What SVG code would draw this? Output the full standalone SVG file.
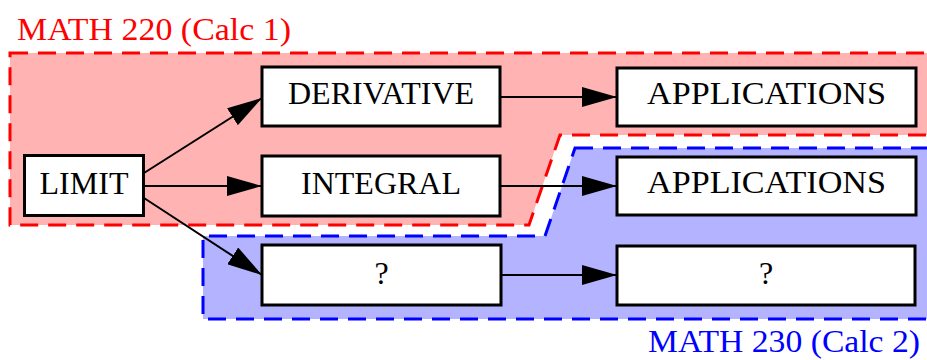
<svg xmlns="http://www.w3.org/2000/svg" width="927" height="360" viewBox="0 0 927 360">
<style>
.cl{stroke-width:3;stroke-dasharray:18,10}
.n rect{fill:#fff;stroke:#000;stroke-width:3}
.n text,.t{font-family:"Liberation Serif","Times New Roman",serif;font-size:32px;text-anchor:middle}
.e{stroke:#000;stroke-width:2;fill:none;marker-end:url(#ah)}
</style>
<defs>
<marker id="ah" viewBox="0 0 35 20" refX="35" refY="10" markerWidth="35" markerHeight="20" markerUnits="userSpaceOnUse" orient="auto">
<path d="M0,0 L35,10 L0,20 Z" fill="#000"/>
</marker>
</defs>
<g id="cluster_calc1">
<polygon class="cl" points="10,53 945,53 945,135 560,135 529,225 10,225" fill="#ffb3b3" stroke="#ff0000"/>
<text class="t" x="17" y="40" fill="#ff0000" style="text-anchor:start" textLength="274" lengthAdjust="spacingAndGlyphs">MATH 220 (Calc 1)</text>
</g>
<g id="cluster_calc2">
<polygon class="cl" points="575,148 945,148 945,319 203,319 203,236 545,236" fill="#b3b3ff" stroke="#0000ff"/>
<text class="t" x="920" y="352" fill="#0000ff" style="text-anchor:end" textLength="272" lengthAdjust="spacingAndGlyphs">MATH 230 (Calc 2)</text>
</g>
<g id="edges">
<line class="e" x1="144" y1="173" x2="262" y2="98"/>
<line class="e" x1="144" y1="186" x2="262" y2="186"/>
<line class="e" x1="144" y1="198" x2="262" y2="275"/>
<line class="e" x1="500" y1="97" x2="617" y2="97"/>
<line class="e" x1="500" y1="186" x2="617" y2="186"/>
<line class="e" x1="501" y1="275" x2="617" y2="275"/>
</g>
<g id="limit" class="n"><rect x="24.5" y="155.5" width="119" height="60"/><text x="84" y="194">LIMIT</text></g>
<g id="derivative" class="n"><rect x="262" y="67" width="238" height="59"/><text x="381" y="104">DERIVATIVE</text></g>
<g id="integral" class="n"><rect x="262" y="156" width="238" height="60"/><text x="381" y="194">INTEGRAL</text></g>
<g id="app1" class="n"><rect x="617" y="68" width="299" height="58"/><text x="766.5" y="104" textLength="239" lengthAdjust="spacingAndGlyphs">APPLICATIONS</text></g>
<g id="app2" class="n"><rect x="617" y="157" width="299" height="58"/><text x="766.5" y="193" textLength="239" lengthAdjust="spacingAndGlyphs">APPLICATIONS</text></g>
<g id="q1" class="n"><rect x="262" y="245" width="239" height="60"/><text x="381.5" y="284">?</text></g>
<g id="q2" class="n"><rect x="617" y="246" width="298" height="59"/><text x="766" y="284">?</text></g>
</svg>
